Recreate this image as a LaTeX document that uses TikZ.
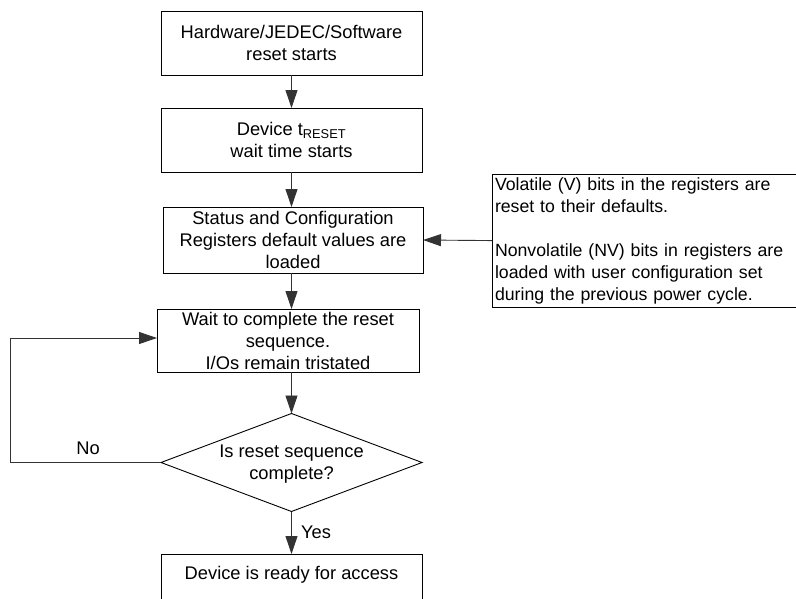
\documentclass[tikz,border=0pt]{standalone}
\usepackage{fontspec}
\setmainfont{Liberation Sans}
\usetikzlibrary{arrows.meta,shapes.geometric}
\begin{document}
\begin{tikzpicture}[x=1pt,y=-1pt,
  every node/.style={font=\fontsize{18.3}{22}\selectfont, outer sep=0pt},
  box/.style={draw=black, line width=0.9pt, minimum width=261pt, minimum height=64pt, inner sep=2pt, align=center},
  conn/.style={draw=black!80, line width=0.9pt, -{Triangle[width=12pt,length=18pt]}},
  lbl/.style={inner sep=0pt}]
\useasboundingbox (0,0) rectangle (796,598);
\clip (0,0) rectangle (796,598);
\node[box] (b1) at (291.5,43) {Hardware/JEDEC/Software\\reset starts};
\node[box] (b2) at (291.5,140) {Device t\textsubscript{RESET}\\wait time starts};
\node[box, minimum width=260pt, minimum height=66pt] (b3) at (293,240) {Status and Configuration\\Registers default values are\\loaded};
\node[box, minimum width=262pt, minimum height=63pt] (b4) at (288,340.5) {Wait to complete the reset\\sequence.\\I/Os remain tristated};
\node[diamond, draw=black, line width=0.9pt, minimum width=261pt, minimum height=98pt, inner sep=0pt] (d) at (291.5,462.5) {};
\node[lbl, align=center] (dt) at (291.5,464) {Is reset sequence\\complete?};
\node[box, anchor=north, minimum height=52pt, text depth=14pt] (b5) at (291.5,554) {Device is ready for access};
\node[draw=black, line width=0.9pt, anchor=north west, minimum width=320pt, minimum height=130pt, text width=314pt, align=left, inner xsep=3pt, font=\fontsize{17.7}{22}\selectfont] (note) at (492,174)
  {Volatile (V) bits in the registers are\\reset to their defaults.\\[22pt]Nonvolatile (NV) bits in registers are\\loaded with user configuration set\\during the previous power cycle.};
\coordinate (lc) at (10,462.5);
\draw[conn] (b1.south) -- (b2.north);
\draw[conn] (b2.south) -- (b2.south |- b3.north);
\draw[conn] (b2.south |- b3.south) -- (b2.south |- b4.north);
\draw[conn] (b2.south |- b4.south) -- (d.north);
\draw[conn] (d.south) -- (b5.north);
\draw[conn] (note.west) -- (b3.east);
\draw[conn] (d.west) -- (lc) |- ([yshift=2.5pt]b4.west);
\node[lbl] (no) at (88,448) {No};
\node[lbl] (yes) at (316,532) {Yes};
\end{tikzpicture}
\end{document}
